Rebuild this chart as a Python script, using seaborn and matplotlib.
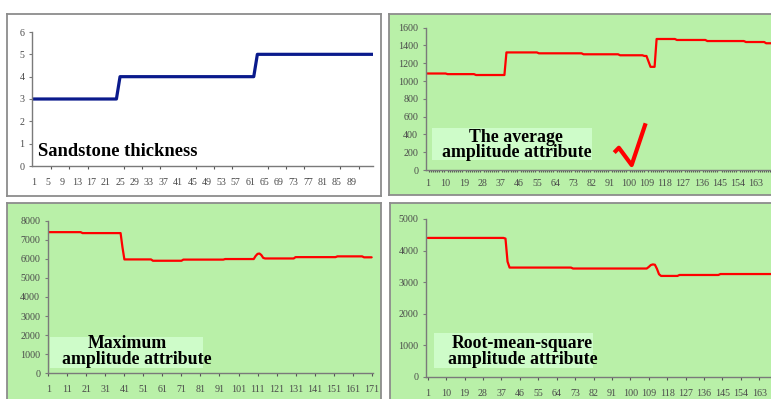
import numpy as np
import matplotlib.pyplot as plt
from matplotlib.patches import Rectangle
from matplotlib.ticker import FixedLocator
import seaborn as sns

# values, kept as step levels and how many samples each lasts
thick_levels = [3, 4, 5]
thick_runs = [24, 38, 33]

avg_levels = [1085, 1078, 1068, 1322, 1312, 1301, 1290, 1282, 1220, 1160,
              1473, 1462, 1450, 1439, 1425]
avg_runs = [10, 14, 15, 16, 22, 18, 12, 2, 1, 3, 10, 15, 19, 10, 4]

max_levels = [7400, 7350, 6600, 5970, 5900, 5960, 5990, 6150, 6260, 6280,
              6200, 6050, 6020, 6090, 6130, 6080]
max_runs = [18, 21, 1, 15, 16, 22, 16, 1, 1, 1, 1, 1, 16, 22, 14, 5]

rms_levels = [4400, 4380, 3650, 3460, 3430, 3480, 3540, 3560, 3550, 3420,
              3250, 3195, 3225, 3255]
rms_runs = [38, 1, 1, 31, 37, 1, 1, 1, 1, 1, 1, 9, 20, 28]

# hand-drawn check mark on the average amplitude panel
check_x = [93.1, 95.4, 101.7, 108.6]
check_y = [196, 250, 56, 525]

thick_xticks = list(range(1, 90, 4))
avg_xticks = list(range(1, 164, 9))
max_xticks = list(range(1, 172, 10))
rms_xticks = list(range(1, 164, 9))

W, H = 771, 399
GREEN = '#b9f0a8'
LABEL_BG = '#cefcc9'
BORDER = '#8c8c8c'

sns.set_style("ticks")
plt.rcParams['font.family'] = ['Liberation Serif', 'DejaVu Serif']

fig = plt.figure(figsize=(W / 100, H / 100), dpi=100)
fig.patch.set_facecolor('white')


def frac(x0, y0, x1, y1):
    return [x0 / W, 1 - y1 / H, (x1 - x0) / W, (y1 - y0) / H]


def panel(box, face):
    bg = fig.add_axes(frac(*box), zorder=0)
    bg.set_facecolor(face)
    bg.set_xticks([])
    bg.set_yticks([])
    for s in bg.spines.values():
        s.set_color(BORDER)
        s.set_linewidth(1.3)


def plot_axes(box, x, y, xlim, ylim, yticks, xticks, color, lw, xpad, ticks_at=None, minor=None, tlen=3):
    ax = fig.add_axes(frac(*box), zorder=2)
    ax.set_facecolor('none')
    sns.lineplot(x=x, y=y, ax=ax, color=color, linewidth=lw)
    ax.set_xlim(*xlim)
    ax.set_ylim(*ylim)
    ax.set_yticks(yticks)
    ax.set_xticks(xticks)
    ax.set_xticklabels([str(t) for t in xticks])
    ax.set_xlabel('')
    ax.set_ylabel('')
    for side in ['top', 'right']:
        ax.spines[side].set_visible(False)
    for side in ['left', 'bottom']:
        ax.spines[side].set_color('#7a7a7a')
        ax.spines[side].set_linewidth(1.0)
    ax.tick_params(axis='y', length=2.2, width=0.8, color='#7a7a7a', pad=3.2,
                   labelsize=7.2, labelcolor='#4a4a4a')
    ax.tick_params(axis='x', which='major', length=0 if ticks_at is None else tlen * 0.72,
                   width=0.8, color='#555555', pad=xpad, labelsize=7.2, labelcolor='#4a4a4a')
    if minor is not None:
        ax.xaxis.set_minor_locator(FixedLocator(minor))
        ax.tick_params(axis='x', which='minor', length=tlen * 0.72, width=0.8, color='#555555')
    return ax


def label(lines, cx, baselines, size, box=None):
    if box is not None:
        x0, y0, x1, y1 = box
        fig.patches.append(Rectangle((x0 / W, 1 - y1 / H), (x1 - x0) / W, (y1 - y0) / H,
                                     transform=fig.transFigure, facecolor=LABEL_BG,
                                     edgecolor='none', zorder=1))
    for text, cxx, b in zip(lines, cx, baselines):
        fig.text(cxx / W, 1 - b / H, text, ha='center' if box is not None else 'left',
                 va='baseline', fontsize=size, fontweight='bold', color='black', zorder=3)


# panel 1: sandstone thickness
thick = np.repeat(thick_levels, thick_runs)
idx1 = np.arange(1, len(thick) + 1)
panel((7, 14, 381, 196), 'white')
plot_axes((32, 32, 373, 166), idx1, thick, (0.64, 95), (0, 6), range(0, 7), thick_xticks,
          '#0a1a8c', 2.3, 8.8, minor=list(range(6, 96, 5)))
label(['Sandstone thickness'], [38], [156], 13.3)

# panel 2: average amplitude
avg = np.repeat(avg_levels, avg_runs)
idx2 = np.arange(1, len(avg) + 1)
panel((389, 14, 800, 195), GREEN)
ax2 = plot_axes((425.7, 27.7, 781, 170), idx2, avg, (0.21, 175.3), (0, 1600), range(0, 1601, 200),
                avg_xticks, '#ff0000', 1.6, 6.6, minor=list(range(1, 176)), tlen=2.5)
ax2.plot(check_x, check_y, color='#ff0000', linewidth=3.0, solid_capstyle='butt', zorder=4)
label(['The average', 'amplitude attribute'], [516, 516.5], [141.5, 157], 12.8,
      box=(431.7, 128.3, 591.7, 160))

# panel 3: maximum amplitude
mx = np.repeat(max_levels, max_runs)
idx3 = np.arange(1, len(mx) + 1)
panel((7, 203.5, 381, 420), GREEN)
plot_axes((47.7, 220.7, 372.6, 373.3), idx3, mx, (0.68, 171.5), (0, 8000), range(0, 8001, 1000),
          max_xticks, '#ff0000', 1.6, 6.6, ticks_at=True)
label(['Maximum', 'amplitude attribute'], [127, 136.7], [348.5, 364], 12.8,
      box=(50, 336.7, 203, 368))

# panel 4: root-mean-square amplitude
rms = np.repeat(rms_levels, rms_runs)
idx4 = np.arange(1, len(rms) + 1)
panel((389.5, 203.5, 800, 420), GREEN)
plot_axes((426, 219, 781, 376.7), idx4, rms, (0.17, 173.6), (0, 5000), range(0, 5001, 1000),
          rms_xticks, '#ff0000', 1.6, 6.8, ticks_at=True)
label(['Root-mean-square', 'amplitude attribute'], [522, 523.3], [347.7, 363.5], 12.8,
      box=(434.3, 333.3, 593.3, 368.3))

fig.savefig('out.png', dpi=100)
